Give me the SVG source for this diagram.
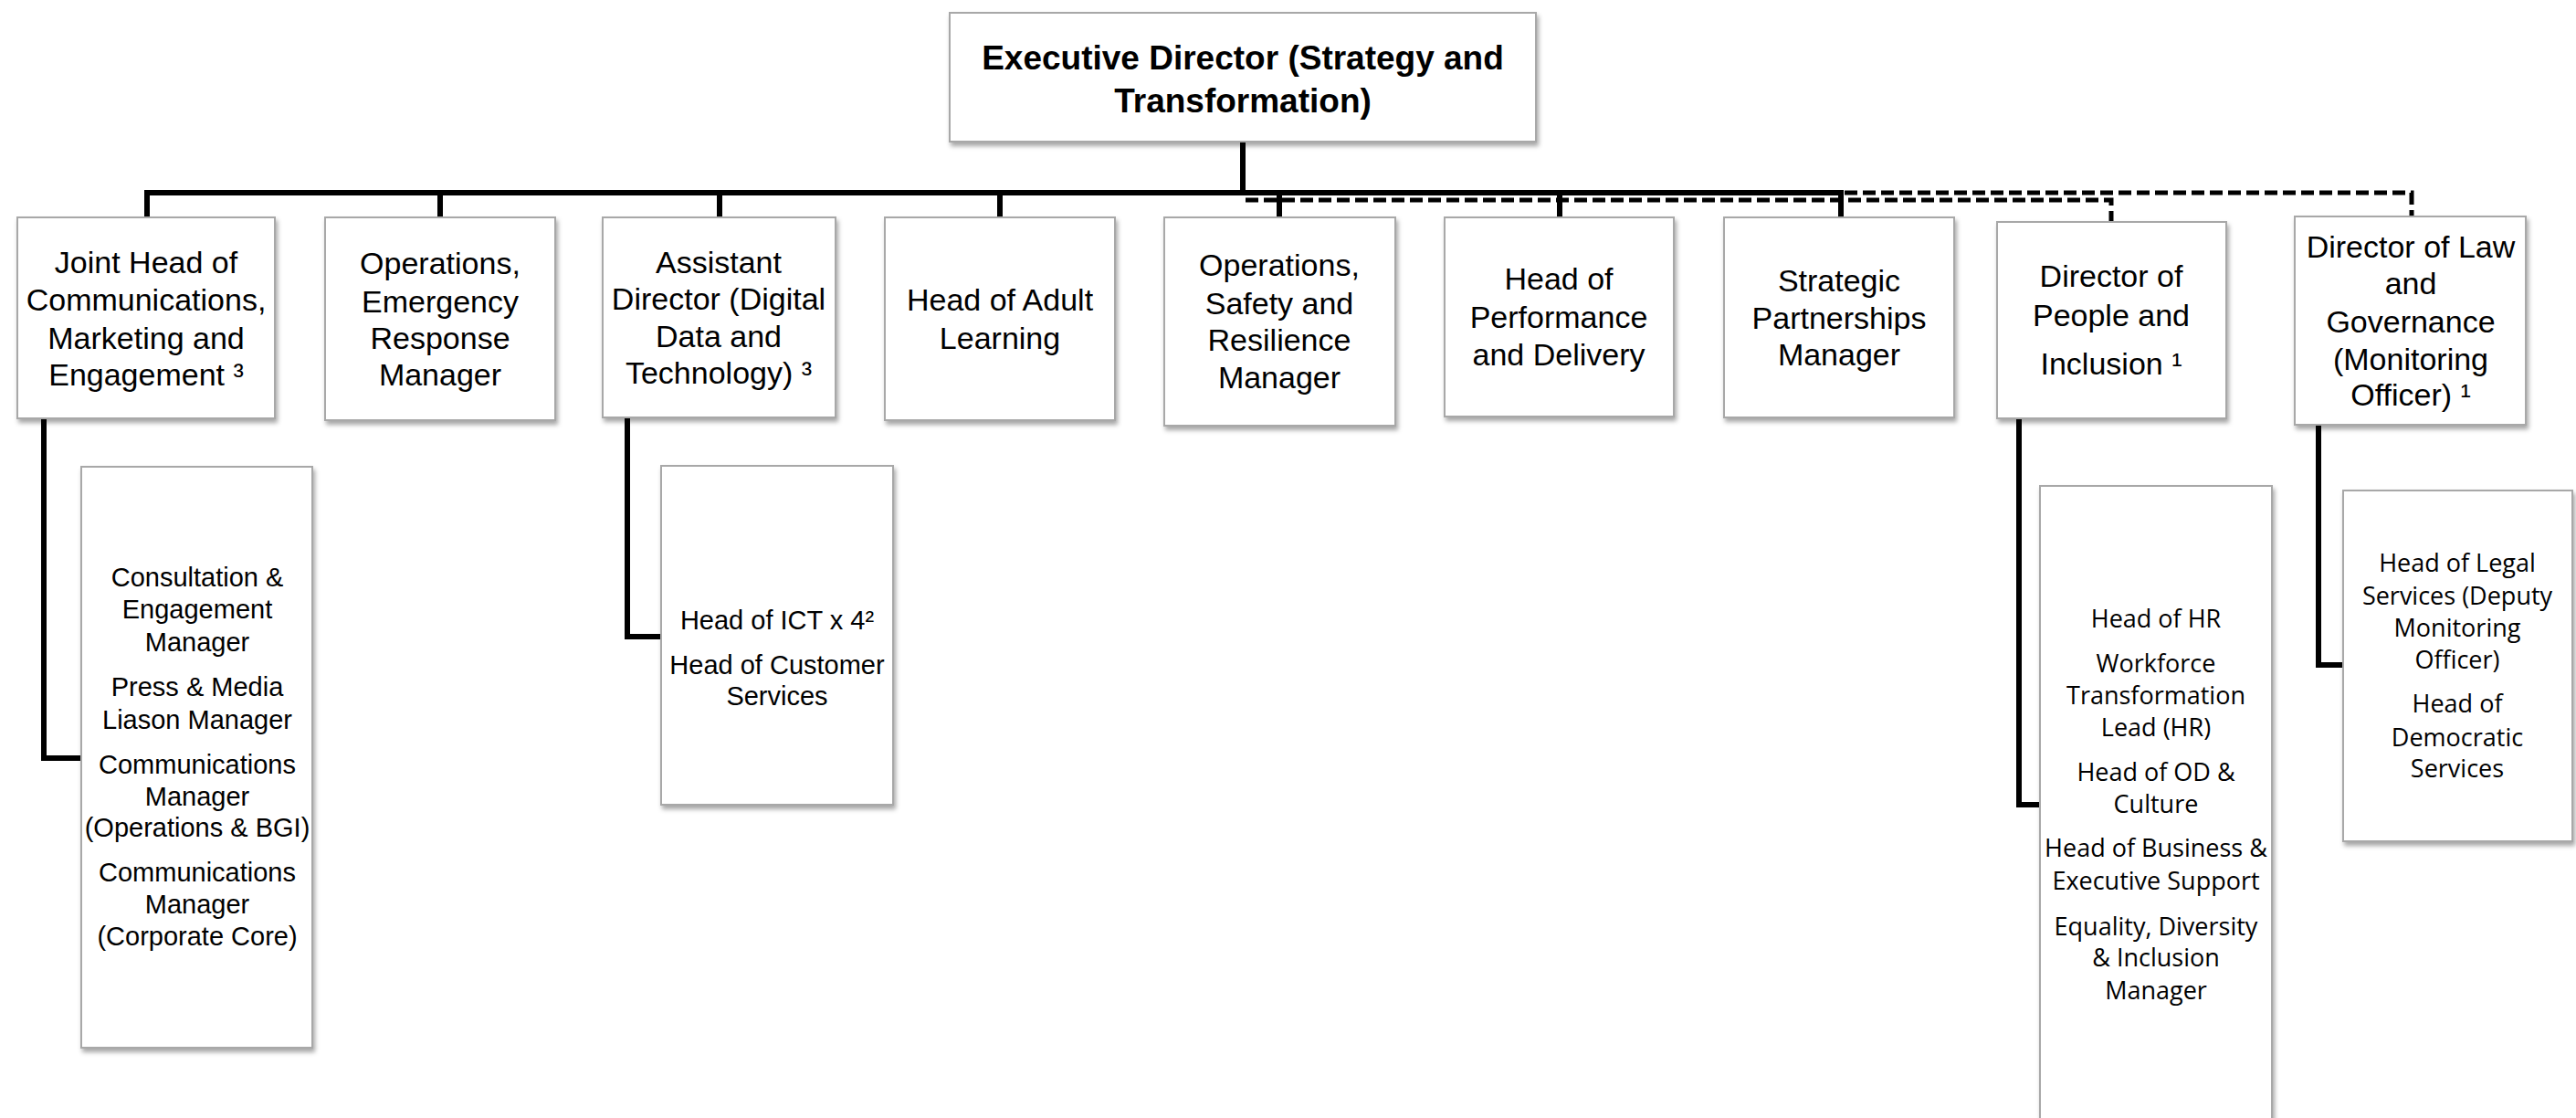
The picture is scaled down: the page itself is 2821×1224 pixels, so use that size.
<svg xmlns="http://www.w3.org/2000/svg" width="2821" height="1224" viewBox="0 0 2821 1224">
<defs>
<filter id="sh" x="-10%" y="-10%" width="125%" height="125%">
<feDropShadow dx="2" dy="4" stdDeviation="2.5" flood-color="#000" flood-opacity="0.35"/>
</filter>
<style>
.box{fill:#fff;stroke:#a8a8a8;stroke-width:2;filter:url(#sh)}
.t{font-family:"Liberation Sans",Arial,sans-serif;font-size:34px;fill:#000;text-anchor:middle}
.tb{font-family:"Liberation Sans",Arial,sans-serif;font-size:37px;font-weight:bold;fill:#000;text-anchor:middle}
.s{font-family:"Liberation Sans",Arial,sans-serif;font-size:29px;fill:#000;text-anchor:middle}
.o{font-family:"Open Sans",sans-serif;font-size:27px;fill:#000;text-anchor:middle}
.ln{fill:none;stroke:#000;stroke-width:6}
.dl{fill:none;stroke:#000;stroke-width:5;stroke-dasharray:14 6}
</style>
</defs>
<rect width="2821" height="1224" fill="#fff"/>
<g id="connectors">
<path class="ln" d="M1361,155 V211"/>
<path class="dl" d="M2020,211 H2641 V237"/>
<path class="ln" d="M161,238 V211 H2016 V238"/>
<path class="ln" d="M482,211 V238 M788,211 V238 M1095,211 V238 M1401,211 V238 M1708,211 V238"/>
<path class="dl" d="M1364,219 H2312 V243"/>
<path class="ln" d="M48,458 V830 H89"/>
<path class="ln" d="M687,457 V697 H724"/>
<path class="ln" d="M2211,458 V881 H2234"/>
<path class="ln" d="M2539,465 V728 H2566"/>
</g>
<g id="exec">
<rect class="box" x="1040" y="14" width="642" height="141"/>
<text class="tb" x="1361" y="76">Executive Director (Strategy and</text>
<text class="tb" x="1361" y="123">Transformation)</text>
</g>
<g id="joint-head">
<rect class="box" x="19" y="238" width="282" height="220"/>
<text class="t" x="160" y="299">Joint Head of</text>
<text class="t" x="160" y="340">Communications,</text>
<text class="t" x="160" y="382">Marketing and</text>
<text class="t" x="160" y="422">Engagement ³</text>
</g>
<g id="ops-emergency">
<rect class="box" x="356" y="238" width="252" height="222"/>
<text class="t" x="482" y="300">Operations,</text>
<text class="t" x="482" y="342">Emergency</text>
<text class="t" x="482" y="382">Response</text>
<text class="t" x="482" y="422">Manager</text>
</g>
<g id="assistant-director">
<rect class="box" x="660" y="238" width="255" height="219"/>
<text class="t" x="787" y="299">Assistant</text>
<text class="t" x="787" y="339">Director (Digital</text>
<text class="t" x="787" y="380">Data and</text>
<text class="t" x="787" y="420">Technology) ³</text>
</g>
<g id="adult-learning">
<rect class="box" x="969" y="238" width="252" height="222"/>
<text class="t" x="1095" y="340">Head of Adult</text>
<text class="t" x="1095" y="382">Learning</text>
</g>
<g id="ops-safety">
<rect class="box" x="1275" y="238" width="253" height="228"/>
<text class="t" x="1401" y="302">Operations,</text>
<text class="t" x="1401" y="344">Safety and</text>
<text class="t" x="1401" y="384">Resilience</text>
<text class="t" x="1401" y="425">Manager</text>
</g>
<g id="performance">
<rect class="box" x="1582" y="238" width="251" height="218"/>
<text class="t" x="1707" y="317">Head of</text>
<text class="t" x="1707" y="359">Performance</text>
<text class="t" x="1707" y="400">and Delivery</text>
</g>
<g id="strategic">
<rect class="box" x="1888" y="238" width="252" height="219"/>
<text class="t" x="2014" y="319">Strategic</text>
<text class="t" x="2014" y="360">Partnerships</text>
<text class="t" x="2014" y="400">Manager</text>
</g>
<g id="people">
<rect class="box" x="2187" y="243" width="251" height="215"/>
<text class="t" x="2312" y="314">Director of</text>
<text class="t" x="2312" y="357">People and</text>
<text class="t" x="2312" y="410">Inclusion ¹</text>
</g>
<g id="law">
<rect class="box" x="2513" y="237" width="253" height="228"/>
<text class="t" x="2640" y="282">Director of Law</text>
<text class="t" x="2640" y="322">and</text>
<text class="t" x="2640" y="364">Governance</text>
<text class="t" x="2640" y="405">(Monitoring</text>
<text class="t" x="2640" y="444">Officer) ¹</text>
</g>
<g id="comms-team">
<rect class="box" x="89" y="511" width="253" height="636"/>
<text class="s" x="216" y="642">Consultation &amp;</text>
<text class="s" x="216" y="677">Engagement</text>
<text class="s" x="216" y="713">Manager</text>
<text class="s" x="216" y="762">Press &amp; Media</text>
<text class="s" x="216" y="798">Liason Manager</text>
<text class="s" x="216" y="847">Communications</text>
<text class="s" x="216" y="882">Manager</text>
<text class="s" x="216" y="916">(Operations &amp; BGI)</text>
<text class="s" x="216" y="965">Communications</text>
<text class="s" x="216" y="1000">Manager</text>
<text class="s" x="216" y="1035">(Corporate Core)</text>
</g>
<g id="ict-team">
<rect class="box" x="724" y="510" width="254" height="371"/>
<text class="s" x="851" y="689">Head of ICT x 4²</text>
<text class="s" x="851" y="738">Head of Customer</text>
<text class="s" x="851" y="772">Services</text>
</g>
<g id="hr-team">
<rect class="box" x="2234" y="532" width="254" height="700"/>
<text class="o" x="2361" y="687">Head of HR</text>
<text class="o" x="2361" y="736">Workforce</text>
<text class="o" x="2361" y="771">Transformation</text>
<text class="o" x="2361" y="806">Lead (HR)</text>
<text class="o" x="2361" y="855">Head of OD &amp;</text>
<text class="o" x="2361" y="890">Culture</text>
<text class="o" x="2361" y="938">Head of Business &amp;</text>
<text class="o" x="2361" y="974">Executive Support</text>
<text class="o" x="2361" y="1024">Equality, Diversity</text>
<text class="o" x="2361" y="1058">&amp; Inclusion</text>
<text class="o" x="2361" y="1094">Manager</text>
</g>
<g id="legal-team">
<rect class="box" x="2566" y="537" width="251" height="384"/>
<text class="o" x="2691" y="626">Head of Legal</text>
<text class="o" x="2691" y="662">Services (Deputy</text>
<text class="o" x="2691" y="697">Monitoring</text>
<text class="o" x="2691" y="732">Officer)</text>
<text class="o" x="2691" y="780">Head of</text>
<text class="o" x="2691" y="817">Democratic</text>
<text class="o" x="2691" y="851">Services</text>
</g>
</svg>
